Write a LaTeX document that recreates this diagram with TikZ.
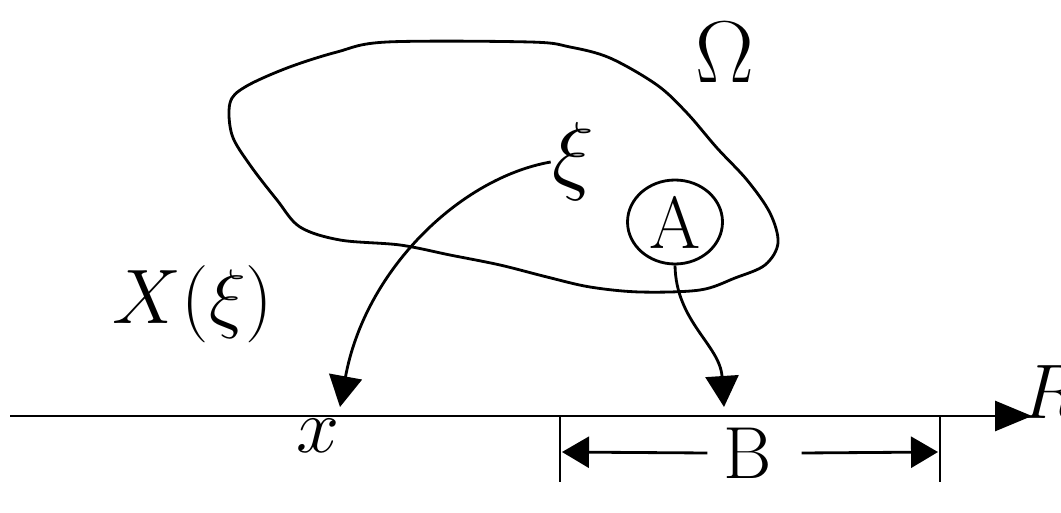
\RequirePackage{fix-cm}
\documentclass[tikz,border=0pt]{standalone}
\usepackage{amsmath}
\usetikzlibrary{arrows.meta,shapes.geometric}
\newcommand\labfont{\fontsize{44}{50}\selectfont}
\newcommand\bigfont{\fontsize{50}{56}\selectfont}
\newcommand\midfont{\fontsize{42}{48}\selectfont}

\begin{document}
\begin{tikzpicture}[x=0.02cm,y=-0.02cm,line width=1.6pt,
  lbl/.style={inner sep=0pt,font=\labfont},
  sml/.style={inner sep=0pt,font=\midfont},
  circ/.style={draw,ellipse,inner sep=0pt,minimum width=1.9cm,minimum height=1.68cm,font=\midfont},
  arr/.style={-{Triangle[length=0.62cm,width=0.66cm]}},
  barr/.style={-{Triangle[length=0.54cm,width=0.62cm]}}]
\useasboundingbox (0,0) rectangle (1061,513);
% the set Omega
\draw plot[smooth cycle,tension=0.55] coordinates {(387,42) (530,42) (570,47) (610,58)
  (657,85) (687,113) (717,148) (747,180) (770,213) (778,243) (765,265) (735,278)
  (700,290) (640,292) (590,287) (547,277) (500,265) (450,255) (400,245) (340,240)
  (300,227) (277,200) (250,165) (232,135) (230,103) (245,87) (287,68) (337,52)};
\node[lbl,font=\bigfont] (omega) at (725,52) {$\Omega$};
\node[lbl,font=\bigfont] (xi) at (573,162) {$\xi$};
\node[circ] (A) at (675,222) {A};
\node[lbl] (Xxi) at (193,304) {$X(\xi)$};
% real line
\coordinate (axL) at (10,416);
\coordinate (axR) at (1032,416);
\draw[-{Triangle[length=0.74cm,width=0.6cm]}] (axL) -- (axR);
\node[lbl,anchor=west] (R) at (1020,392) {$R$};
\coordinate (xpt) at (340,407);
\coordinate (apt) at (724,407);
\node[lbl] (xlab) at (318,436) {$x$};
\draw[arr] (xi.west) .. controls (460,178) and (365,270) .. (xpt);
\draw[arr] (A.south) .. controls (676,322) and (720,345) .. (apt);
% interval B
\coordinate (tl) at (560,417);
\coordinate (tlb) at (560,482);
\coordinate (tr) at (940,417);
\coordinate (trb) at (940,482);
\draw (tl) -- (tlb);
\draw (tr) -- (trb);
\node[sml] (B) at (748,453) {B};
\coordinate (bl) at (562,452);
\coordinate (br) at (938,452);
\draw[barr] ([xshift=-0.3cm]B.west) -- (bl);
\draw[barr] ([xshift=0.56cm]B.east) -- (br);
\end{tikzpicture}
\end{document}
